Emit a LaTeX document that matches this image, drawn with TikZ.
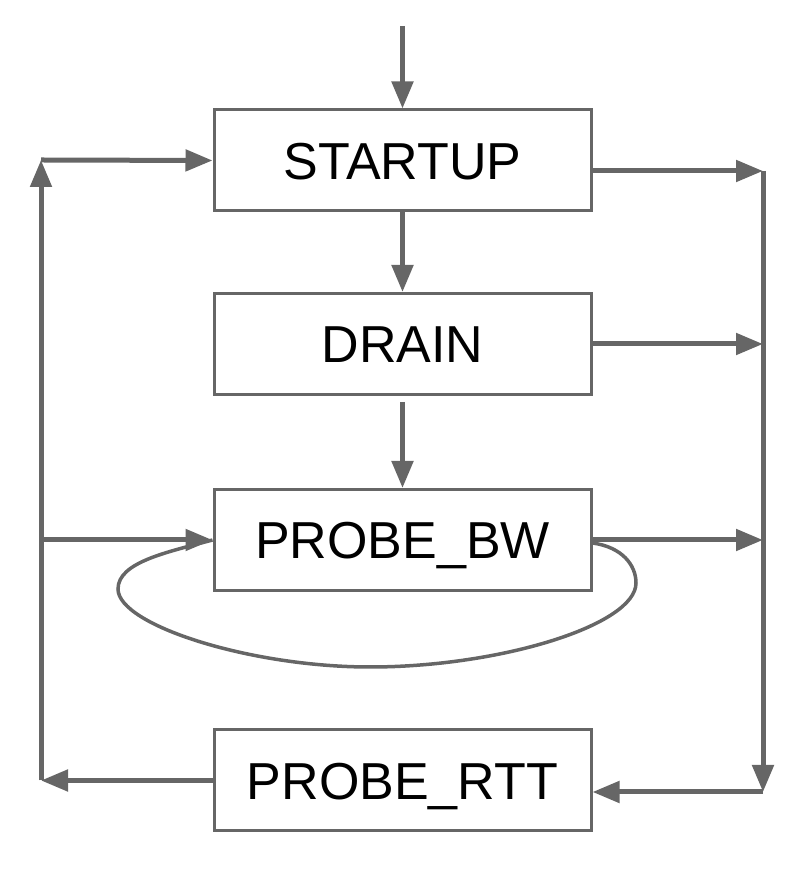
\documentclass[tikz,border=0pt]{standalone}
\usepackage{fontspec}
\setmainfont{Liberation Sans}
\usetikzlibrary{arrows.meta,calc}
\definecolor{linegray}{HTML}{666666}
\begin{document}
\begin{tikzpicture}[x=1pt,y=1pt,
  statebox/.style={draw=linegray,line width=3pt,minimum width=377pt,minimum height=101pt,
    inner sep=0pt,text height=37.3pt,text depth=0pt,
    font=\fontsize{52}{60}\selectfont},
  flow/.style={draw=linegray,line width=5pt,-{Triangle[length=27pt,width=21pt]}},
  loopline/.style={draw=linegray,line width=3.5pt}]
\useasboundingbox (0,0) rectangle (796,870);
\node[statebox] (startup) at (402.5,709.5) {STARTUP};
\node[statebox] (drain) at (402.5,526) {DRAIN};
\node[statebox] (probebw) at (402.5,330) {PROBE\_BW};
\node[statebox] (probertt) at (402.5,89.5) {PROBE\_RTT};
\coordinate (top) at (402.5,844);
\coordinate (r1) at (763,699);
\coordinate (rb) at (763,78);
\coordinate (l1) at (41,710);
\coordinate (lb) at (41,89.5);
\coordinate (loopR) at (636,287);
\coordinate (loopB) at (370,203);
\coordinate (loopL) at (118,281);
% vertical chain
\draw[flow] (top) -- (startup.north);
\draw[flow] (startup.south) -- (drain.north);
\draw[flow,shorten <=6pt] (drain.south) -- (probebw.north);
% right side
\draw[flow] (startup.east |- r1) -- (r1);
\draw[flow] (drain.east) -- (drain.east -| r1);
\draw[flow] (probebw.east) -- (probebw.east -| r1);
\draw[flow] (r1) -- (rb);
\draw[flow] (rb) -- (probertt.east |- rb);
% left side
\draw[flow] (probertt.west) -- (lb);
\draw[flow] (lb) -- (l1);
\draw[flow] (l1) -- (startup.west);
\draw[flow] (probebw.west -| l1) -- (probebw.west);
% self loop
\draw[loopline] ($(probebw.east)+(0,-3)$) .. controls (622,323) and (636,305) .. (loopR)
  .. controls (636,245) and (500,203) .. (loopB)
  .. controls (250,203) and (118,245) .. (loopL)
  .. controls (118,308) and (168,318) .. (probebw.west);
\end{tikzpicture}
\end{document}
